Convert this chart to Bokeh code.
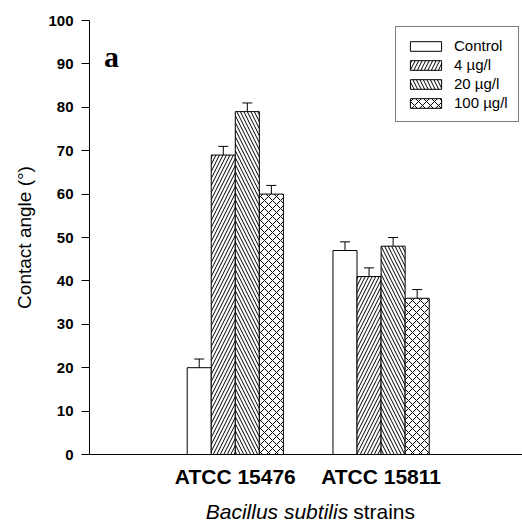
from bokeh.plotting import figure
from bokeh.layouts import column
from bokeh.models import Range1d, FixedTicker, Legend, LegendItem, Label, ColumnDataSource
from bokeh.embed import file_html
from bokeh.resources import INLINE

# ---- data ----
strains = ["ATCC 15476", "ATCC 15811"]
series_names = ["Control", "4 \u00b5g/l", "20 \u00b5g/l", "100 \u00b5g/l"]
control = [20, 47]
control_err = [2, 2]
ug4 = [69, 41]
ug4_err = [2, 2]
ug20 = [79, 48]
ug20_err = [2, 2]
ug100 = [60, 36]
ug100_err = [2, 2]
y_ticks = [0, 10, 20, 30, 40, 50, 60, 70, 80, 90, 100]

series = [control, ug4, ug20, ug100]
errors = [control_err, ug4_err, ug20_err, ug100_err]
hatches = [" ", "/", "\\", "x"]

FONT = "Liberation Sans"
bar_w = 0.165
offsets = [-1.5 * bar_w, -0.5 * bar_w, 0.5 * bar_w, 1.5 * bar_w]
centers = [i + 1 for i in range(len(strains))]

p = figure(width=522, height=495, output_backend="svg", toolbar_location=None,
           x_range=Range1d(0, 2.97), y_range=Range1d(0, 100),
           min_border_left=89, min_border_right=0, min_border_top=20, min_border_bottom=41)
p.outline_line_color = None
p.xgrid.visible = False
p.ygrid.visible = False
p.background_fill_color = "white"
p.border_fill_color = "white"

items = []
for k, (vals, errs, h, name) in enumerate(zip(series, errors, hatches, series_names)):
    xs = [c + offsets[k] for c in centers]
    tops_err = [v + e for v, e in zip(vals, errs)]
    src = ColumnDataSource(dict(x=xs, top=vals, etop=tops_err))
    r = p.vbar(x="x", top="top", bottom=0, width=bar_w, source=src,
               fill_color="white", line_color="black", line_width=1,
               hatch_pattern=h, hatch_color="black", hatch_weight=1,
               hatch_scale=7 if h != "x" else 8)
    p.segment(x0="x", y0="top", x1="x", y1="etop", source=src, line_color="black", line_width=1)
    p.scatter(x="x", y="etop", source=src, marker="dash", size=10, line_color="black", line_width=1)
    items.append(LegendItem(label=name, renderers=[r]))

legend = Legend(items=items, location=(306, 332), border_line_color="black", border_line_width=1,
                background_fill_color="white", background_fill_alpha=1.0,
                label_text_font=FONT, label_text_font_size="15px", label_text_color="black",
                glyph_width=39, glyph_height=12, label_height=12, spacing=2,
                padding=10, label_standoff=9, margin=0)
p.add_layout(legend)

# y axis
p.yaxis.ticker = FixedTicker(ticks=y_ticks)
p.yaxis.minor_tick_line_color = None
p.yaxis.major_tick_in = 0
p.yaxis.major_tick_out = 8
p.yaxis.major_label_standoff = 8
p.yaxis.major_label_text_font = FONT
p.yaxis.major_label_text_font_size = "15px"
p.yaxis.major_label_text_font_style = "bold"
p.yaxis.major_label_text_color = "black"
p.yaxis.axis_label = "Contact angle (\u00b0)"
p.yaxis.axis_label_text_font = FONT
p.yaxis.axis_label_text_font_size = "19px"
p.yaxis.axis_label_text_font_style = "normal"
p.yaxis.axis_label_text_color = "black"
p.yaxis.axis_label_standoff = 10
p.yaxis.axis_line_color = "black"

# x axis
p.xaxis.ticker = FixedTicker(ticks=centers)
p.xaxis.major_label_overrides = {c: s for c, s in zip(centers, strains)}
p.xaxis.major_tick_in = 0
p.xaxis.major_tick_out = 0
p.xaxis.minor_tick_line_color = None
p.xaxis.major_label_standoff = 10
p.xaxis.major_label_text_font = FONT
p.xaxis.major_label_text_font_size = "21px"
p.xaxis.major_label_text_font_style = "bold"
p.xaxis.major_label_text_color = "black"
p.xaxis.axis_line_color = "black"

# panel letter
p.add_layout(Label(x=0.10, y=91.8, text="a", text_align="left", text_baseline="alphabetic",
                   text_font="Liberation Serif", text_font_size="30px", text_font_style="bold",
                   text_color="black"))

# x axis title (mixed italic / normal) in a strip below the chart
p2 = figure(width=522, height=27, output_backend="svg", toolbar_location=None,
            x_range=p.x_range, y_range=Range1d(0, 1),
            x_axis_location=None, y_axis_location=None,
            min_border_left=89, min_border_right=0, min_border_top=0, min_border_bottom=0)
p2.outline_line_color = None
p2.xgrid.visible = False
p2.ygrid.visible = False
p2.background_fill_color = "white"
p2.border_fill_color = "white"
p2.add_layout(Label(x=1.774, y=0.4, text="Bacillus subtilis", text_align="right", text_baseline="middle",
                    text_font=FONT, text_font_size="21px", text_font_style="italic", text_color="black"))
p2.add_layout(Label(x=1.774, y=0.4, x_offset=5, text="strains", text_align="left", text_baseline="middle",
                    text_font=FONT, text_font_size="21px", text_font_style="normal", text_color="black"))

layout = column(p, p2, spacing=0)
open("out.html", "w").write(file_html(layout, INLINE))
